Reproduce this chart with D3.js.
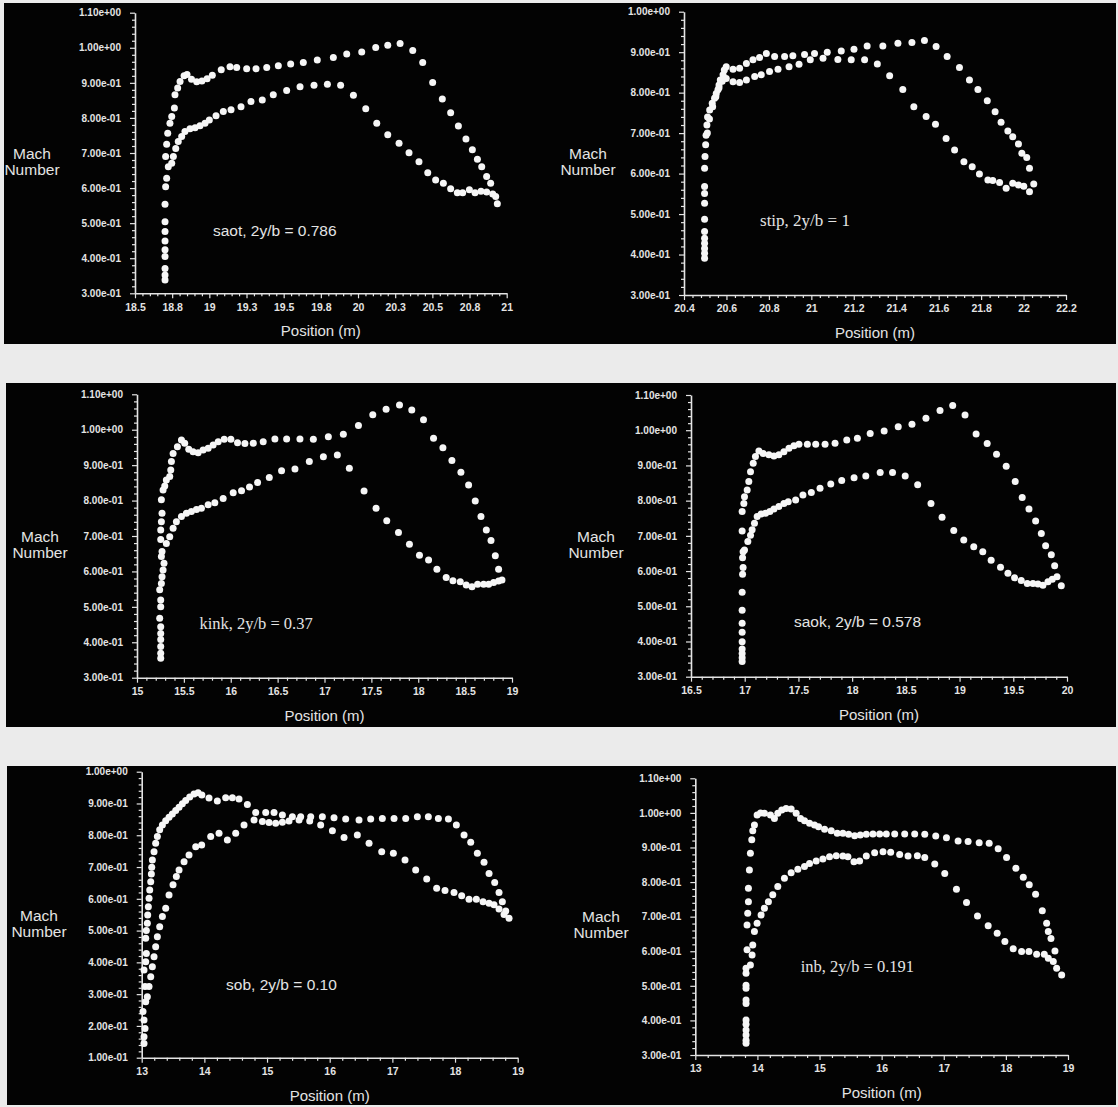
<!DOCTYPE html>
<html>
<head>
<meta charset="utf-8">
<script src="https://cdn.jsdelivr.net/npm/d3@7"></script>
<style>
  html, body { margin: 0; padding: 0; background: #ebebeb; }
  svg { display: block; }
</style>
</head>
<body>
<svg id="chart" width="1118" height="1107"></svg>
<script>
// ---- Mach number distributions along the chord, six spanwise stations ----
// Each station: upper-surface points and lower-surface points as [position (m), Mach].

const stations = ["saot", "stip", "kink", "saok", "sob", "inb"];
const spanRatios = ["0.786", "1", "0.37", "0.578", "0.10", "0.191"];

const saotUpper = [[18.702,0.338],[18.702,0.352],[18.702,0.371],[18.702,0.405],[18.702,0.424],[18.702,0.449],[18.702,0.476],[18.702,0.504],[18.702,0.554],[18.706,0.604],[18.713,0.628],[18.724,0.661],[18.706,0.690],[18.713,0.725],[18.720,0.756],[18.735,0.785],[18.747,0.804],[18.765,0.828],[18.769,0.866],[18.787,0.885],[18.803,0.904],[18.830,0.920],[18.850,0.924],[18.880,0.910],[18.915,0.903],[18.950,0.905],[18.985,0.912],[19.020,0.922],[19.080,0.937],[19.139,0.946],[19.184,0.944],[19.251,0.940],[19.314,0.940],[19.386,0.944],[19.464,0.949],[19.547,0.954],[19.632,0.958],[19.726,0.965],[19.834,0.972],[19.924,0.982],[20.025,0.988],[20.119,1.001],[20.200,1.007],[20.283,1.012],[20.368,0.992],[20.435,0.958],[20.502,0.901],[20.567,0.854],[20.623,0.815],[20.675,0.777],[20.726,0.740],[20.769,0.709],[20.803,0.682],[20.832,0.661],[20.865,0.633],[20.892,0.614],[20.937,0.555]];
const saotLower = [[18.747,0.671],[18.758,0.690],[18.774,0.713],[18.791,0.733],[18.814,0.747],[18.836,0.761],[18.870,0.769],[18.904,0.772],[18.937,0.778],[18.971,0.785],[19.000,0.794],[19.045,0.806],[19.094,0.818],[19.146,0.823],[19.213,0.832],[19.280,0.847],[19.356,0.851],[19.430,0.866],[19.520,0.878],[19.610,0.889],[19.704,0.893],[19.794,0.896],[19.883,0.893],[19.969,0.865],[20.052,0.826],[20.126,0.785],[20.200,0.752],[20.276,0.728],[20.343,0.701],[20.410,0.675],[20.469,0.644],[20.522,0.623],[20.574,0.614],[20.623,0.598],[20.668,0.587],[20.704,0.587],[20.749,0.595],[20.787,0.587],[20.827,0.591],[20.865,0.589],[20.906,0.583],[20.926,0.576]];

const stipUpper = [[20.497,0.391],[20.497,0.403],[20.497,0.415],[20.497,0.428],[20.497,0.440],[20.497,0.457],[20.497,0.487],[20.497,0.527],[20.497,0.551],[20.497,0.568],[20.497,0.613],[20.499,0.642],[20.502,0.671],[20.504,0.695],[20.508,0.720],[20.511,0.740],[20.521,0.757],[20.533,0.774],[20.544,0.786],[20.552,0.798],[20.560,0.807],[20.565,0.819],[20.571,0.831],[20.584,0.844],[20.590,0.856],[20.599,0.864],[20.631,0.858],[20.662,0.860],[20.694,0.872],[20.725,0.881],[20.756,0.887],[20.788,0.897],[20.827,0.889],[20.874,0.889],[20.913,0.891],[20.968,0.894],[21.015,0.897],[21.075,0.900],[21.141,0.903],[21.201,0.907],[21.263,0.915],[21.337,0.915],[21.408,0.922],[21.474,0.924],[21.533,0.929],[21.588,0.914],[21.640,0.889],[21.698,0.862],[21.745,0.831],[21.785,0.808],[21.829,0.780],[21.866,0.753],[21.894,0.727],[21.926,0.705],[21.949,0.691],[21.976,0.673],[21.992,0.650],[22.015,0.640],[22.028,0.613]];
const stipLower = [[20.510,0.700],[20.520,0.735],[20.535,0.765],[20.550,0.790],[20.565,0.812],[20.580,0.828],[20.599,0.835],[20.631,0.827],[20.662,0.825],[20.694,0.831],[20.733,0.840],[20.764,0.844],[20.803,0.852],[20.843,0.858],[20.895,0.864],[20.942,0.870],[20.995,0.881],[21.055,0.885],[21.125,0.882],[21.188,0.881],[21.251,0.881],[21.311,0.871],[21.369,0.842],[21.431,0.808],[21.483,0.765],[21.541,0.741],[21.585,0.722],[21.635,0.687],[21.675,0.658],[21.719,0.629],[21.758,0.617],[21.792,0.599],[21.832,0.584],[21.855,0.583],[21.887,0.578],[21.918,0.564],[21.949,0.576],[21.976,0.572],[22.001,0.569],[22.028,0.555],[22.048,0.574]];

const kinkUpper = [[15.253,0.355],[15.253,0.369],[15.253,0.388],[15.253,0.408],[15.253,0.425],[15.253,0.444],[15.242,0.468],[15.253,0.500],[15.253,0.519],[15.242,0.548],[15.260,0.566],[15.267,0.585],[15.278,0.604],[15.288,0.623],[15.260,0.642],[15.267,0.656],[15.253,0.690],[15.253,0.717],[15.260,0.740],[15.267,0.764],[15.260,0.802],[15.278,0.830],[15.296,0.841],[15.313,0.858],[15.349,0.868],[15.360,0.886],[15.367,0.910],[15.385,0.933],[15.431,0.952],[15.474,0.971],[15.509,0.962],[15.552,0.945],[15.598,0.938],[15.652,0.935],[15.705,0.943],[15.759,0.948],[15.812,0.957],[15.866,0.966],[15.930,0.973],[16.001,0.973],[16.072,0.963],[16.151,0.961],[16.240,0.962],[16.346,0.966],[16.471,0.974],[16.596,0.974],[16.738,0.974],[16.881,0.973],[17.041,0.980],[17.201,0.987],[17.362,1.012],[17.515,1.042],[17.657,1.058],[17.800,1.070],[17.931,1.056],[18.056,1.028],[18.163,0.976],[18.263,0.949],[18.359,0.913],[18.455,0.880],[18.537,0.844],[18.608,0.799],[18.669,0.755],[18.726,0.717],[18.776,0.687],[18.822,0.644],[18.857,0.606]];
const kinkLower = [[15.313,0.679],[15.349,0.698],[15.385,0.722],[15.420,0.740],[15.474,0.755],[15.527,0.764],[15.580,0.769],[15.634,0.775],[15.687,0.778],[15.759,0.788],[15.830,0.794],[15.919,0.806],[16.026,0.822],[16.115,0.828],[16.200,0.838],[16.286,0.851],[16.411,0.865],[16.542,0.884],[16.685,0.889],[16.838,0.910],[16.988,0.924],[17.137,0.929],[17.265,0.891],[17.422,0.827],[17.550,0.778],[17.664,0.743],[17.789,0.710],[17.906,0.677],[18.013,0.646],[18.110,0.632],[18.199,0.606],[18.298,0.583],[18.370,0.574],[18.448,0.571],[18.512,0.562],[18.573,0.557],[18.633,0.564],[18.697,0.564],[18.751,0.564],[18.804,0.569],[18.857,0.573],[18.893,0.576]];

const saokUpper = [[16.976,0.343],[16.976,0.354],[16.976,0.366],[16.976,0.379],[16.976,0.399],[16.976,0.426],[16.976,0.452],[16.976,0.489],[16.976,0.540],[16.980,0.591],[16.985,0.610],[16.980,0.638],[16.976,0.714],[16.976,0.769],[16.992,0.792],[16.998,0.811],[17.023,0.830],[17.038,0.854],[17.054,0.882],[17.079,0.906],[17.100,0.925],[17.132,0.941],[17.172,0.934],[17.225,0.930],[17.272,0.927],[17.318,0.930],[17.365,0.939],[17.412,0.949],[17.458,0.956],[17.505,0.960],[17.583,0.960],[17.661,0.960],[17.748,0.960],[17.841,0.963],[17.950,0.972],[18.049,0.977],[18.168,0.991],[18.298,0.998],[18.429,1.010],[18.557,1.017],[18.687,1.034],[18.818,1.056],[18.936,1.070],[19.051,1.043],[19.154,0.989],[19.257,0.962],[19.344,0.932],[19.434,0.898],[19.518,0.854],[19.583,0.809],[19.646,0.776],[19.708,0.742],[19.761,0.707],[19.801,0.672],[19.854,0.646],[19.885,0.615],[19.907,0.584]];
const saokLower = [[16.985,0.655],[16.998,0.660],[17.029,0.684],[17.054,0.702],[17.069,0.717],[17.091,0.736],[17.116,0.755],[17.153,0.762],[17.194,0.764],[17.234,0.769],[17.272,0.776],[17.318,0.783],[17.365,0.792],[17.405,0.797],[17.474,0.802],[17.542,0.816],[17.620,0.823],[17.701,0.835],[17.801,0.847],[17.903,0.857],[18.018,0.865],[18.127,0.870],[18.261,0.880],[18.376,0.880],[18.494,0.870],[18.610,0.845],[18.734,0.792],[18.837,0.753],[18.946,0.715],[19.039,0.688],[19.132,0.669],[19.216,0.655],[19.294,0.631],[19.381,0.611],[19.450,0.594],[19.512,0.581],[19.574,0.573],[19.630,0.565],[19.683,0.565],[19.730,0.563],[19.776,0.560],[19.823,0.570],[19.863,0.577],[19.947,0.558]];

const sobUpper = [[13.037,0.145],[13.037,0.166],[13.053,0.192],[13.037,0.219],[13.021,0.245],[13.064,0.276],[13.053,0.324],[13.037,0.376],[13.064,0.402],[13.074,0.428],[13.064,0.476],[13.074,0.500],[13.090,0.523],[13.096,0.549],[13.106,0.575],[13.117,0.602],[13.128,0.628],[13.144,0.654],[13.154,0.678],[13.160,0.699],[13.170,0.722],[13.197,0.748],[13.223,0.775],[13.250,0.796],[13.287,0.817],[13.330,0.832],[13.383,0.846],[13.436,0.857],[13.489,0.867],[13.543,0.878],[13.596,0.888],[13.649,0.899],[13.702,0.909],[13.766,0.920],[13.835,0.930],[13.900,0.934],[13.960,0.927],[14.074,0.917],[14.207,0.908],[14.340,0.918],[14.447,0.918],[14.553,0.914],[14.686,0.897],[14.819,0.872],[14.979,0.872],[15.112,0.872],[15.245,0.864],[15.404,0.858],[15.537,0.858],[15.697,0.858],[15.883,0.858],[16.069,0.855],[16.255,0.851],[16.468,0.848],[16.654,0.851],[16.840,0.853],[17.027,0.853],[17.213,0.853],[17.399,0.858],[17.574,0.858],[17.734,0.853],[17.894,0.851],[18.021,0.832],[18.144,0.801],[18.250,0.778],[18.356,0.743],[18.463,0.715],[18.543,0.680],[18.633,0.651],[18.702,0.620],[18.755,0.591],[18.809,0.562],[18.862,0.539]];
const sobLower = [[13.090,0.292],[13.117,0.324],[13.144,0.355],[13.170,0.386],[13.197,0.418],[13.223,0.449],[13.250,0.481],[13.287,0.512],[13.330,0.544],[13.383,0.570],[13.436,0.612],[13.500,0.644],[13.553,0.670],[13.596,0.691],[13.676,0.717],[13.755,0.738],[13.862,0.764],[13.957,0.769],[14.101,0.796],[14.234,0.806],[14.367,0.785],[14.500,0.806],[14.633,0.832],[14.793,0.848],[14.926,0.843],[15.032,0.840],[15.138,0.838],[15.245,0.841],[15.351,0.845],[15.511,0.848],[15.681,0.845],[15.856,0.832],[16.043,0.814],[16.229,0.793],[16.441,0.801],[16.628,0.775],[16.830,0.748],[17.016,0.743],[17.202,0.722],[17.372,0.691],[17.548,0.662],[17.707,0.633],[17.840,0.626],[17.984,0.620],[18.106,0.610],[18.223,0.599],[18.340,0.599],[18.447,0.591],[18.543,0.586],[18.622,0.581],[18.702,0.568],[18.782,0.551]];

const inbUpper = [[13.817,0.334],[13.817,0.343],[13.817,0.358],[13.817,0.372],[13.817,0.389],[13.817,0.401],[13.817,0.449],[13.817,0.459],[13.817,0.493],[13.817,0.502],[13.817,0.536],[13.817,0.551],[13.833,0.604],[13.833,0.676],[13.844,0.710],[13.855,0.743],[13.855,0.782],[13.871,0.835],[13.887,0.883],[13.909,0.922],[13.925,0.948],[13.952,0.965],[13.995,0.994],[14.050,1.000],[14.113,0.999],[14.210,0.994],[14.274,0.984],[14.328,0.999],[14.392,1.008],[14.462,1.013],[14.543,1.011],[14.624,0.999],[14.694,0.984],[14.758,0.977],[14.839,0.970],[14.919,0.965],[14.984,0.960],[15.081,0.953],[15.188,0.948],[15.285,0.941],[15.376,0.941],[15.468,0.938],[15.565,0.934],[15.656,0.936],[15.753,0.938],[15.860,0.939],[15.968,0.939],[16.075,0.939],[16.210,0.939],[16.371,0.939],[16.532,0.939],[16.694,0.938],[16.871,0.933],[17.043,0.928],[17.231,0.919],[17.392,0.917],[17.570,0.914],[17.731,0.912],[17.876,0.896],[18.011,0.871],[18.161,0.840],[18.280,0.814],[18.376,0.792],[18.478,0.765],[18.586,0.717],[18.656,0.681],[18.683,0.657],[18.726,0.637],[18.790,0.601]];
const inbLower = [[13.887,0.560],[13.914,0.589],[13.925,0.618],[13.952,0.657],[13.995,0.681],[14.059,0.705],[14.113,0.724],[14.177,0.743],[14.247,0.763],[14.328,0.787],[14.435,0.811],[14.543,0.827],[14.651,0.837],[14.758,0.845],[14.839,0.854],[14.946,0.861],[15.054,0.867],[15.161,0.873],[15.269,0.876],[15.376,0.875],[15.457,0.873],[15.554,0.859],[15.645,0.861],[15.753,0.875],[15.887,0.885],[16.022,0.888],[16.145,0.886],[16.290,0.880],[16.425,0.875],[16.575,0.876],[16.694,0.871],[16.855,0.852],[17.016,0.825],[17.204,0.779],[17.366,0.741],[17.543,0.702],[17.715,0.674],[17.860,0.652],[17.984,0.628],[18.118,0.607],[18.253,0.599],[18.371,0.599],[18.495,0.591],[18.618,0.591],[18.683,0.580],[18.763,0.570],[18.817,0.551],[18.898,0.531]];

// Axis tick values
const saotXTicks = [18.5, 18.75, 19, 19.25, 19.5, 19.75, 20, 20.25, 20.5, 20.75, 21];
const stipXTicks = [20.4, 20.6, 20.8, 21, 21.2, 21.4, 21.6, 21.8, 22, 22.2];
const kinkXTicks = [15, 15.5, 16, 16.5, 17, 17.5, 18, 18.5, 19];
const saokXTicks = [16.5, 17, 17.5, 18, 18.5, 19, 19.5, 20];
const sobXTicks  = [13, 14, 15, 16, 17, 18, 19];
const inbXTicks  = [13, 14, 15, 16, 17, 18, 19];
const machTicks11 = [0.3, 0.4, 0.5, 0.6, 0.7, 0.8, 0.9, 1.0, 1.1];
const machTicks10 = [0.3, 0.4, 0.5, 0.6, 0.7, 0.8, 0.9, 1.0];
const machTicksLow = [0.1, 0.2, 0.3, 0.4, 0.5, 0.6, 0.7, 0.8, 0.9, 1.0];

// Page layout: black strips per row and the plot box of each station
const rowStrips = [
  { x: 4, y: 3,   w: 1112, h: 341 },
  { x: 6, y: 383, w: 1110, h: 344 },
  { x: 7, y: 766, w: 1109, h: 339 }
];
const layout = [
  { box: [135, 12.7, 506.7, 293.3],  yDom: [0.3, 1.1], machX: 32,  ann: [19.44, 0.48],  annFont: "sans",  annSize: 15.5 },
  { box: [684, 11.7, 1066, 295],     yDom: [0.3, 1.0], machX: 588, ann: [20.97, 0.484], annFont: "serif", annSize: 17 },
  { box: [137, 394.3, 512, 677.7],   yDom: [0.3, 1.1], machX: 40,  ann: [16.27, 0.454], annFont: "serif", annSize: 16.5 },
  { box: [691, 395, 1067, 676.7],    yDom: [0.3, 1.1], machX: 596, ann: [18.05, 0.458], annFont: "sans",  annSize: 15.5 },
  { box: [141.7, 771.7, 517.7, 1057.7], yDom: [0.1, 1.0], machX: 39, ann: [15.23, 0.331], annFont: "sans", annSize: 15.5 },
  { box: [695.3, 778.3, 1068, 1055], yDom: [0.3, 1.1], machX: 601, ann: [15.61, 0.555], annFont: "serif", annSize: 16.5 }
];

const panels = [
  { upper: saotUpper, lower: saotLower, xTicks: saotXTicks, yTicks: machTicks11 },
  { upper: stipUpper, lower: stipLower, xTicks: stipXTicks, yTicks: machTicks10 },
  { upper: kinkUpper, lower: kinkLower, xTicks: kinkXTicks, yTicks: machTicks11 },
  { upper: saokUpper, lower: saokLower, xTicks: saokXTicks, yTicks: machTicks11 },
  { upper: sobUpper,  lower: sobLower,  xTicks: sobXTicks,  yTicks: machTicksLow },
  { upper: inbUpper,  lower: inbLower,  xTicks: inbXTicks,  yTicks: machTicks11 }
].map((p, i) => Object.assign(p, layout[i], { name: stations[i], ratio: spanRatios[i] }));

// "1.10e+00" style labels
function sciLabel(v) {
  return v.toExponential(2).replace(/e([+-])(\d)$/, (m, s, d) => "e" + s + "0" + d);
}
const xLabel = d3.format(".1~f");

const INK = "#e4e4e4";
const DOT = "#f6f6f6";
const SANS = "'Liberation Sans', Arial, Helvetica, sans-serif";
const SERIF = "'Liberation Serif', 'DejaVu Serif', serif";

const svg = d3.select("#chart");

svg.selectAll("rect.strip")
  .data(rowStrips)
  .join("rect")
  .attr("class", "strip")
  .attr("x", d => d.x).attr("y", d => d.y)
  .attr("width", d => d.w).attr("height", d => d.h)
  .attr("fill", "#030303");

function minorValues(ticks, parts) {
  const out = [];
  for (let i = 0; i < ticks.length - 1; i++) {
    const step = (ticks[i + 1] - ticks[i]) / parts;
    for (let k = 1; k < parts; k++) out.push(ticks[i] + k * step);
  }
  return out;
}

function styleAxis(sel, size) {
  sel.selectAll("path.domain").attr("stroke", INK).attr("stroke-width", 1.6);
  sel.selectAll(".tick line").attr("stroke", INK).attr("stroke-width", 1.2);
  sel.selectAll(".tick text")
    .attr("fill", INK)
    .style("font-family", SANS)
    .style("font-size", (size || 10) + "px")
    .style("font-weight", "bold");
}

panels.forEach(p => {
  const [x0, y0, x1, y1] = p.box;
  const xDom = [p.xTicks[0], p.xTicks[p.xTicks.length - 1]];
  const x = d3.scaleLinear().domain(xDom).range([x0, x1]);
  const y = d3.scaleLinear().domain(p.yDom).range([y1, y0]);
  const g = svg.append("g").attr("class", "panel " + p.name);

  // minor ticks
  g.append("g")
    .attr("transform", `translate(${x0},0)`)
    .call(d3.axisLeft(y).tickValues(minorValues(p.yTicks, 5)).tickSize(3).tickSizeOuter(0).tickFormat(""))
    .call(a => a.select("path.domain").remove())
    .call(a => styleAxis(a));
  g.append("g")
    .attr("transform", `translate(0,${y1})`)
    .call(d3.axisBottom(x).tickValues(minorValues(p.xTicks, 5)).tickSize(3).tickSizeOuter(0).tickFormat(""))
    .call(a => a.select("path.domain").remove())
    .call(a => styleAxis(a));

  // major axes
  g.append("g")
    .attr("transform", `translate(${x0},0)`)
    .call(d3.axisLeft(y).tickValues(p.yTicks).tickSize(5).tickSizeOuter(0).tickPadding(9).tickFormat(sciLabel))
    .call(a => styleAxis(a, 10));
  g.append("g")
    .attr("transform", `translate(0,${y1})`)
    .call(d3.axisBottom(x).tickValues(p.xTicks).tickSize(5).tickSizeOuter(0).tickPadding(5).tickFormat(xLabel))
    .call(a => styleAxis(a, 10.5));

  // axis titles
  const midY = y0 + 0.53 * (y1 - y0);
  const mach = g.append("text")
    .attr("text-anchor", "middle")
    .attr("fill", INK)
    .style("font-family", SANS)
    .style("font-size", "15.5px");
  mach.append("tspan").attr("x", p.machX).attr("y", midY - 8 + 5.5).text("Mach");
  mach.append("tspan").attr("x", p.machX).attr("y", midY + 8 + 5.5).text("Number");

  g.append("text")
    .attr("x", (x0 + x1) / 2)
    .attr("y", y1 + 43)
    .attr("text-anchor", "middle")
    .attr("fill", INK)
    .style("font-family", SANS)
    .style("font-size", "15px")
    .text("Position (m)");

  // station annotation
  g.append("text")
    .attr("x", x(p.ann[0]))
    .attr("y", y(p.ann[1]) + 5.5)
    .attr("text-anchor", "middle")
    .attr("fill", INK)
    .style("font-family", p.annFont === "serif" ? SERIF : SANS)
    .style("font-size", p.annSize + "px")
    .text(`${p.name}, 2y/b = ${p.ratio}`);

  // surface points
  [p.upper, p.lower].forEach((series, si) => {
    g.append("g")
      .attr("class", si === 0 ? "upper" : "lower")
      .selectAll("circle")
      .data(series)
      .join("circle")
      .attr("cx", d => x(d[0]))
      .attr("cy", d => y(d[1]))
      .attr("r", 3.5)
      .attr("fill", DOT);
  });
});
</script>
</body>
</html>
